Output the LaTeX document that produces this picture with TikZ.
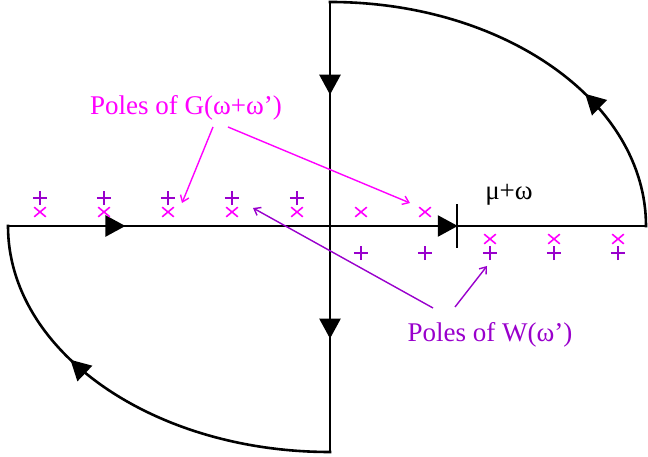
\documentclass[tikz,border=0pt]{standalone}
\usepackage{fontspec}
\setmainfont{Liberation Serif}
\usetikzlibrary{arrows.meta, decorations.markings, shapes.misc}

\definecolor{gmag}{RGB}{255,0,255}
\definecolor{wpur}{RGB}{153,0,204}

\begin{document}
\begin{tikzpicture}[
		x=1pt, y=1pt,
		contour/.style={line width=2.6pt, line cap=rect, black},
		midtip/.style={postaction={decorate, decoration={markings, mark=at position #1 with {\arrow[line cap=butt]{Triangle[length=20pt, width=21pt]}}}}},
		gpole/.style={cross out, draw=gmag, line width=1.6pt, minimum width=10pt, minimum height=8pt, inner sep=0pt},
		wpole/.style={cross out, rotate=45, draw=wpur, line width=1.6pt, minimum size=8.5pt, inner sep=0pt},
		bigtext/.style={font=\fontsize{27}{32}\selectfont, inner sep=0pt},
		garrow/.style={-{Straight Barb[length=6pt, width=9pt]}, gmag, line width=1.4pt},
		warrow/.style={-{Straight Barb[length=6pt, width=9pt]}, wpur, line width=1.4pt}
		]
		\useasboundingbox (0,0) rectangle (648,457);
		
		% Contour
		\coordinate (L) at (8,231);
		\coordinate (R) at (646,231);
		\coordinate (T) at (330,455);
		\coordinate (B) at (330,5);
		\coordinate (mu) at (457,231);
		
		\draw[contour, midtip=0.184, midtip=0.705] (L) -- (R);
		\draw[contour, midtip=0.35] (R) arc[start angle=0, end angle=90, x radius=316, y radius=224];
		\draw[contour, midtip=0.206, midtip=0.748] (T) -- (B);
		\draw[contour, midtip=0.65] (B) arc[start angle=270, end angle=180, x radius=322, y radius=226];
		\draw[line width=1.5pt] (mu) ++(0,-22) -- ++(0,44);
		
		% Poles
		\foreach \px [count=\i] in {40,104,168,232,297,361,425} {
			\node[gpole] (gu\i) at (\px,245) {};
		}
		\foreach \px [count=\i] in {40,104,168,232,297} {
			\node[wpole] (wu\i) at (\px,259) {};
		}
		\foreach \px [count=\i] in {490,554,618} {
			\node[gpole] (gd\i) at (\px,218) {};
		}
		\foreach \px [count=\i] in {361,425,490,554,618} {
			\node[wpole] (wd\i) at (\px,204) {};
		}
		
		% Labels
		\node[bigtext, text=gmag, anchor=base] (polesG) at (186,342) {Poles of G(ω+ω’)};
		\node[bigtext, text=wpur, anchor=base] (polesW) at (490,115) {Poles of W(ω’)};
		\node[bigtext, anchor=base] (muw) at (509,257) {μ+ω};
		
		% Arrows
		\coordinate (gTo1) at (182,254);
		\coordinate (gTo2) at (410,254);
		\coordinate (wTo1) at (253,249);
		\coordinate (wTo2) at (487,191);
		\draw[garrow] ([xshift=27pt, yshift=-12pt]polesG.base) -- (gTo1);
		\draw[garrow] ([xshift=42pt, yshift=-12pt]polesG.base) -- (gTo2);
		\draw[warrow] ([xshift=-57pt, yshift=34pt]polesW.base) -- (wTo1);
		\draw[warrow] ([xshift=-35pt, yshift=35pt]polesW.base) -- (wTo2);
		
	\end{tikzpicture}
\end{document}
